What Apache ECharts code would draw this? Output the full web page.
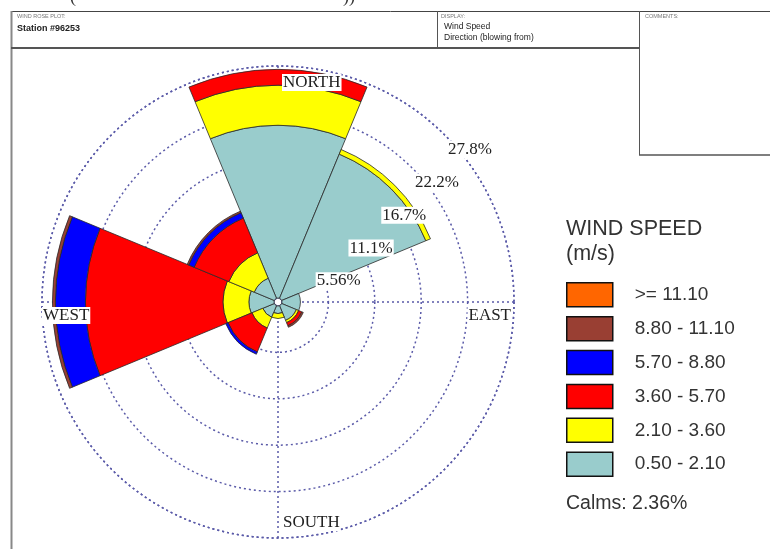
<!DOCTYPE html>
<html>
<head>
<meta charset="utf-8">
<script src="https://cdn.jsdelivr.net/npm/echarts@6/dist/echarts.min.js"></script>
<style>
html,body{margin:0;padding:0;background:#fff;}
#chart{width:770px;height:549px;}
</style>
</head>
<body>
<div id="chart"></div>
<script>
// ---- data ----
const directions = ['N', 'NE', 'E', 'SE', 'S', 'SW', 'W', 'NW'];
const speedBins = ['0.50 - 2.10', '2.10 - 3.60', '3.60 - 5.70', '5.70 - 8.80', '8.80 - 11.10', '>= 11.10'];
const bin0_50_2_10  = [20.7, 18.7, 2.2, 1.9, 0.9, 1.5, 3.0, 2.6];
const bin2_10_3_60  = [4.8, 0.6, 0, 0.3, 0.6, 1.4, 3.1, 3.3];
const bin3_60_5_70  = [1.9, 0, 0, 0.4, 0, 3.1, 16.5, 4.5];
const bin5_70_8_80  = [0, 0, 0, 0, 0, 0.3, 3.6, 0.7];
const bin8_80_11_10 = [0, 0, 0, 0.2, 0, 0, 0.35, 0.2];
const bin11_10_up   = [0, 0, 0, 0, 0, 0, 0, 0];
const ringTicks  = [5.56, 11.12, 16.68, 22.24, 27.8];
const ringLabels = ['5.56%', '11.1%', '16.7%', '22.2%', '27.8%'];
const compassNames  = ['NORTH', 'EAST', 'SOUTH', 'WEST'];
const compassAngles = [0, 90, 180, 270];
const calmsPct = '2.36%';

// ---- styles ----
const binColors = ['#99CCCC', '#FFFF00', '#FF0000', '#0000FF', '#993F33', '#FF6600'];
const binValues = [bin0_50_2_10, bin2_10_3_60, bin3_60_5_70, bin5_70_8_80, bin8_80_11_10, bin11_10_up];
const gridColor = '#5a5aa8';
const serif = '"Liberation Serif", "DejaVu Serif", serif';
const sans = '"Liberation Sans", Arial, sans-serif';
const CX = 278, CY = 302, RIN = 4, ROUT = 236;

const chart = echarts.init(document.getElementById('chart'), null, {renderer: 'canvas'});

const barSeries = speedBins.map((name, i) => ({
  name: name,
  type: 'bar',
  coordinateSystem: 'polar',
  polarIndex: 0,
  stack: 'rose',
  barCategoryGap: '0%',
  data: binValues[i].map(v => v === 0 ? null : v),
  itemStyle: {color: binColors[i], borderColor: '#2a2a2a', borderWidth: 0.8},
  z: 3,
  silent: true
}));

const labelBase = {
  show: true,
  fontFamily: serif,
  fontSize: 17,
  color: '#222',
  backgroundColor: '#fff',
  padding: [0, 1],
  opacity: 1
};

const ringLabelSeries = {
  type: 'scatter',
  coordinateSystem: 'polar',
  polarIndex: 1,
  symbolSize: 0,
  z: 10,
  silent: true,
  itemStyle: {opacity: 1},
  data: ringTicks.map((r, i) => ({
    value: [r, 45],
    label: Object.assign({}, labelBase, {
      formatter: ringLabels[i],
      position: [2, 6],
      align: 'left',
      verticalAlign: 'top'
    })
  }))
};

const compassPos = {
  NORTH: {position: [4, 8], align: 'left', verticalAlign: 'top'},
  EAST: {position: [-2, 5], align: 'right', verticalAlign: 'top'},
  SOUTH: {position: [4, -7], align: 'left', verticalAlign: 'bottom'},
  WEST: {position: [0, 5], align: 'left', verticalAlign: 'top'}
};
const compassSeries = {
  type: 'scatter',
  coordinateSystem: 'polar',
  polarIndex: 1,
  symbolSize: 0,
  z: 10,
  silent: true,
  itemStyle: {opacity: 1},
  data: compassNames.map((n, i) => ({
    value: [ringTicks[ringTicks.length - 1], compassAngles[i]],
    label: Object.assign({}, labelBase, {formatter: n}, compassPos[n])
  }))
};

const option = {
  animation: false,
  backgroundColor: '#fff',
  polar: [
    {center: [CX, CY], radius: [RIN, ROUT]},
    {center: [CX, CY], radius: [RIN, ROUT]}
  ],
  angleAxis: [
    {
      polarIndex: 0, type: 'category', data: directions,
      startAngle: 112.5, clockwise: true,
      axisLine: {show: false}, axisTick: {show: false}, axisLabel: {show: false},
      splitLine: {show: false}, splitArea: {show: false}
    },
    {
      polarIndex: 1, type: 'value', min: 0, max: 360, interval: 90,
      startAngle: 90, clockwise: true,
      axisLine: {show: true, lineStyle: {color: gridColor, width: 1.5, type: [2, 3]}},
      axisTick: {show: false}, axisLabel: {show: false},
      splitLine: {show: true, lineStyle: {color: gridColor, width: 1.5, type: [2, 3]}}
    }
  ],
  radiusAxis: [
    {
      polarIndex: 0, type: 'value', min: 0, max: 27.8,
      axisLine: {show: false}, axisTick: {show: false}, axisLabel: {show: false},
      splitLine: {show: false}
    },
    {
      polarIndex: 1, type: 'value', min: 0, max: 27.8, interval: 5.56,
      axisLine: {show: false}, axisTick: {show: false}, axisLabel: {show: false},
      splitLine: {show: true, lineStyle: {color: gridColor, width: 1.5, type: [2, 3]}}
    }
  ],
  title: [
    {
      text: 'WIND SPEED\n(m/s)', left: 561, top: 212, padding: 5,
      textStyle: {fontFamily: sans, fontSize: 21.5, fontWeight: 'normal', color: '#333', lineHeight: 25}
    },
    {
      text: 'Calms: ' + calmsPct, left: 561, top: 489, padding: 5,
      textStyle: {fontFamily: sans, fontSize: 19.5, fontWeight: 'normal', color: '#333'}
    }
  ],
  legend: {
    orient: 'vertical',
    left: 566, top: 282, padding: 0,
    itemWidth: 46, itemHeight: 24, itemGap: 8.4,
    icon: 'rect',
    data: speedBins.slice().reverse(),
    selectedMode: false,
    itemStyle: {borderColor: '#111', borderWidth: 1.5},
    textStyle: {fontFamily: sans, fontSize: 19, lineHeight: 22, color: '#333', padding: [0, 0, 0, 17]}
  },
  graphic: [
    // header frame
    {type: 'line', shape: {x1: 11, y1: 11.5, x2: 770, y2: 11.5}, style: {stroke: '#444', lineWidth: 1}},
    {type: 'line', shape: {x1: 11.5, y1: 11, x2: 11.5, y2: 549}, style: {stroke: '#888', lineWidth: 2}},
    {type: 'line', shape: {x1: 437.5, y1: 11, x2: 437.5, y2: 48}, style: {stroke: '#555', lineWidth: 1}},
    {type: 'line', shape: {x1: 639.5, y1: 11, x2: 639.5, y2: 155}, style: {stroke: '#555', lineWidth: 1}},
    {type: 'line', shape: {x1: 11, y1: 48, x2: 640, y2: 48}, style: {stroke: '#555', lineWidth: 2}},
    {type: 'line', shape: {x1: 639, y1: 155, x2: 770, y2: 155}, style: {stroke: '#555', lineWidth: 1.5}},
    {type: 'text', left: 17, top: 13, style: {text: 'WIND ROSE PLOT:', font: '5.5px ' + sans, fill: '#777'}},
    {type: 'text', left: 17, top: 24, style: {text: 'Station #96253', font: 'bold 9px ' + sans, fill: '#222'}},
    {type: 'text', left: 441, top: 13, style: {text: 'DISPLAY:', font: '5.5px ' + sans, fill: '#777'}},
    {type: 'text', left: 444, top: 22, style: {text: 'Wind Speed', font: '8.5px ' + sans, fill: '#222'}},
    {type: 'text', left: 444, top: 33, style: {text: 'Direction (blowing from)', font: '8.5px ' + sans, fill: '#222'}},
    {type: 'text', left: 645, top: 13, style: {text: 'COMMENTS:', font: '5.5px ' + sans, fill: '#777'}},
    {type: 'text', left: 70, top: -12, style: {text: '(', font: '18px ' + serif, fill: '#333'}},
    {type: 'text', left: 343, top: -12, style: {text: '))', font: '18px ' + serif, fill: '#333'}}
  ],
  series: barSeries.concat([ringLabelSeries, compassSeries])
};
chart.setOption(option);
</script>
</body>
</html>
